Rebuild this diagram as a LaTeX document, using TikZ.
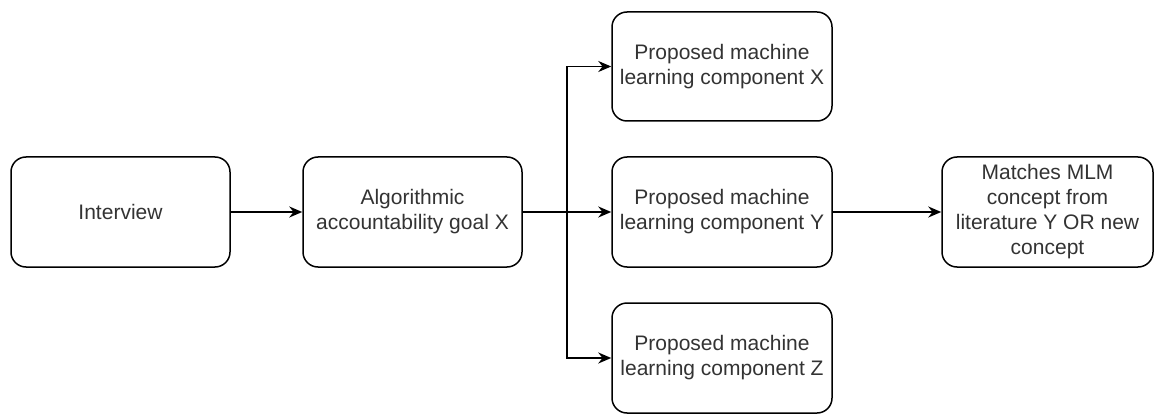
\documentclass[tikz,border=0pt]{standalone}
\usepackage{fontspec}
\setmainfont{Liberation Sans}
\usetikzlibrary{arrows.meta}
\definecolor{txt}{HTML}{333333}
\tikzset{
  box/.style={draw=black, line width=1.5pt, rounded corners=15pt, fill=white,
    minimum height=110pt, minimum width=219pt, align=center, inner sep=2pt,
    text=txt, font=\fontsize{21}{25}\selectfont},
  conn/.style={draw=black, line width=1.5pt, -{Stealth[length=13pt,width=11pt]}},
  plain/.style={draw=black, line width=1.5pt}
}
\begin{document}
\begin{tikzpicture}[x=1pt,y=-1pt]
\useasboundingbox[fill=white] (0,0) rectangle (1155,414);
\node[box] (int) at (120.5,212) {Interview};
\node[box] (alg) at (412.5,212) {Algorithmic\\accountability goal X};
\node[box, minimum height=109pt, minimum width=220pt] (px) at (722,66.5) {Proposed machine\\learning component X};
\node[box, minimum width=220pt] (py) at (722,212) {Proposed machine\\learning component Y};
\node[box, minimum width=220pt] (pz) at (722,358) {Proposed machine\\learning component Z};
\node[box, minimum width=211pt] (mat) at (1047.5,212) {Matches MLM\\concept from\\literature Y OR new\\concept};
\coordinate (j) at (567,212);
\draw[conn] (int) -- (alg);
\draw[conn] (alg) -- (py);
\draw[conn] (j) |- (px);
\draw[conn] (j) |- (pz);
\draw[conn] (py) -- (mat);
\end{tikzpicture}
\end{document}
